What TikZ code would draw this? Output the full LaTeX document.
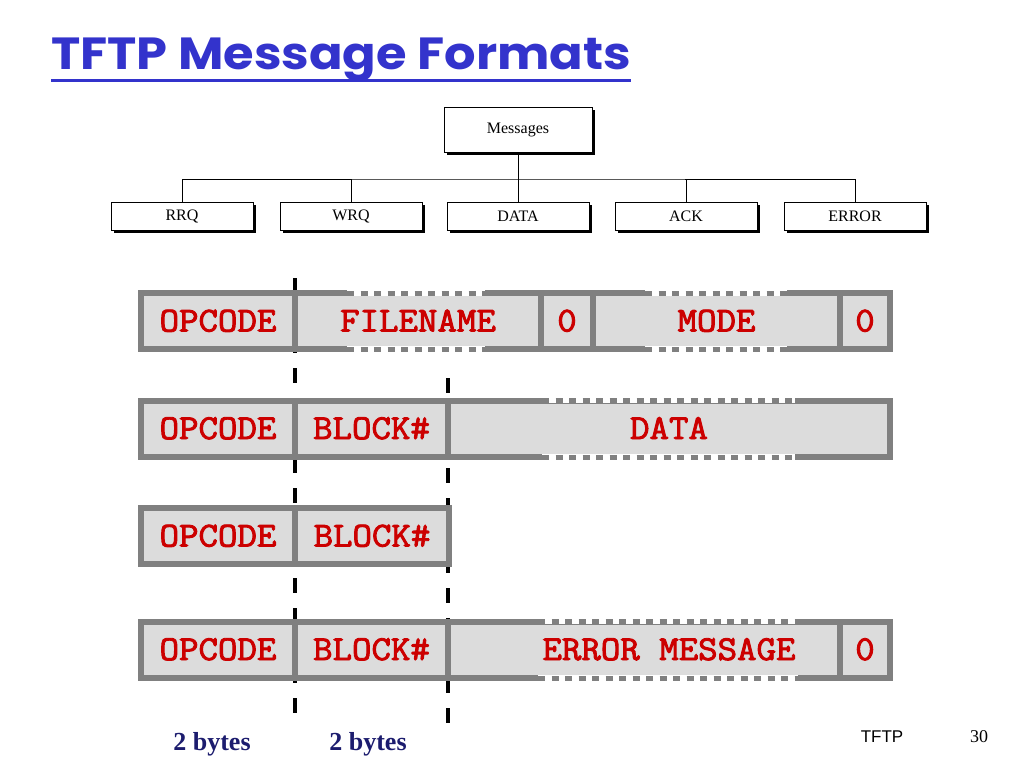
\documentclass[tikz,border=0pt]{standalone}
\usepackage{fontspec}
\setmainfont{Liberation Serif}
\newfontfamily\titlefont{Poppins}
\newfontfamily\footsans{Liberation Sans}
\newfontfamily\fieldfont{Latin Modern Mono}[FakeBold=2.5]
\usetikzlibrary{shadows}
\definecolor{titleblue}{RGB}{51,51,204}
\definecolor{cellgray}{RGB}{128,128,128}
\definecolor{cellfill}{RGB}{220,220,220}
\definecolor{fieldred}{RGB}{204,0,0}
\definecolor{bytesnavy}{RGB}{28,28,110}
\newcommand\fld[1]{\scalebox{1.08}[1]{#1}}
\newcommand\dashseg[3]{%
  \draw[white,line width=6.5pt] (#1,#3)--(#2,#3);
  \draw[cellgray,line width=5pt,dash pattern=on 7pt off 6.5pt] (#1,#3)--(#2,#3);}
\begin{document}
\begin{tikzpicture}[x=1pt,y=-1pt,
  treebox/.style={draw=black, line width=1pt, fill=white, inner sep=0pt,
    font=\fontsize{16}{18}\selectfont,
    drop shadow={shadow xshift=3pt, shadow yshift=-3pt, fill=black, opacity=1}},
  tline/.style={draw=black, line width=1pt},
  cell/.style={draw=cellgray, fill=cellfill, line width=6pt, inner sep=0pt,
    minimum height=56pt, text height=21pt, text depth=0pt,
    font=\fieldfont\fontsize{35}{38}\selectfont, text=fieldred},
  fieldtext/.style={inner sep=0pt, text height=21pt, text depth=0pt,
    font=\fieldfont\fontsize{35}{38}\selectfont, text=fieldred},
  guide/.style={draw=black, line width=4pt, dash pattern=on 15pt off 15pt},
  bytes/.style={anchor=base, inner sep=0pt, text=bytesnavy,
    font=\bfseries\fontsize{26}{30}\selectfont}]
\useasboundingbox[fill=white] (0,0) rectangle (1024,768);

% title
\node[anchor=base west, inner sep=0pt, text=titleblue,
  font=\titlefont\bfseries\fontsize{45}{50}\selectfont] (title) at (51,70) {\scalebox{1.1}[1]{TFTP Message Formats}};
\draw[titleblue, line width=3pt] ([yshift=-10pt]title.base west) -- ([yshift=-10pt]title.base east);

% tree
\node[treebox, minimum width=148pt, minimum height=45pt] (msg) at (518,129.5) {Messages};
\node[treebox, minimum width=142pt, minimum height=28pt] (rrq) at (182,216) {RRQ};
\node[treebox, minimum width=142pt, minimum height=28pt] (wrq) at (351,216) {WRQ};
\node[treebox, minimum width=142pt, minimum height=28pt] (dat) at (518,216) {DATA};
\node[treebox, minimum width=142pt, minimum height=28pt] (ack) at (686,216) {ACK};
\node[treebox, minimum width=142pt, minimum height=28pt] (err) at (855,216) {ERROR};
\coordinate (bus) at (518,179);
\draw[tline] (msg.south) -- (dat.north);
\draw[tline] (rrq.north) |- (bus) -| (err.north);
\draw[tline] (wrq.north) -- (wrq.north |- bus);
\draw[tline] (ack.north) -- (ack.north |- bus);

% guides (behind the rows)
\coordinate (gA1) at (295,278);
\coordinate (gA2) at (295,713);
\coordinate (gB1) at (448,378);
\coordinate (gB2) at (448,723);
\draw[guide] (gA1) -- (gA2);
\draw[guide] (gB1) -- (gB2);

% row 1: RRQ/WRQ
\node[cell, minimum width=154pt] (r1op) at (218,321) {\fld{OPCODE}};
\node[cell, minimum width=246pt] (r1fn) at (418,321) {\fld{FILENAME}};
\node[cell, minimum width=52pt]  (r1za) at (567,321) {\fld{0}};
\node[cell, minimum width=247pt] (r1md) at (716.5,321) {\fld{MODE}};
\node[cell, minimum width=50pt]  (r1zb) at (865,321) {\fld{0}};
\dashseg{347}{485}{293}
\dashseg{347}{485}{349}
\dashseg{645}{787}{293}
\dashseg{645}{787}{349}

% row 2: DATA
\node[cell, minimum width=154pt] (r2op) at (218,428.5) {\fld{OPCODE}};
\node[cell, minimum width=153pt] (r2bk) at (371.5,428.5) {\fld{BLOCK\#}};
\node[cell, minimum width=442pt] (r2dt) at (669,428.5) {\fld{DATA}};
\dashseg{542}{795}{400}
\dashseg{542}{795}{457}

% row 3: ACK
\node[cell, minimum width=154pt] (r3op) at (218,536) {\fld{OPCODE}};
\node[cell, minimum width=154pt] (r3bk) at (372,536) {\fld{BLOCK\#}};

% row 4: ERROR
\node[cell, minimum width=154pt] (r4op) at (218,649.5) {\fld{OPCODE}};
\node[cell, minimum width=153pt] (r4bk) at (371.5,649.5) {\fld{BLOCK\#}};
\node[cell, minimum width=392pt] (r4em) at (644,649.5) {};
\node[cell, minimum width=50pt]  (r4z)  at (865,649.5) {\fld{0}};
\dashseg{538}{798}{621}
\dashseg{538}{798}{678}
\node[fieldtext] (r4emt) at (669,649.5) {\fld{ERROR MESSAGE}};

% footer
\node[bytes] (b1) at (212,750) {2 bytes};
\node[bytes] (b2) at (368,750) {2 bytes};
\node[anchor=base, inner sep=0pt, font=\footsans\fontsize{17}{20}\selectfont] (ft) at (882,742) {TFTP};
\node[anchor=base, inner sep=0pt, font=\fontsize{18}{20}\selectfont] (pg) at (979,742) {30};
\end{tikzpicture}
\end{document}
